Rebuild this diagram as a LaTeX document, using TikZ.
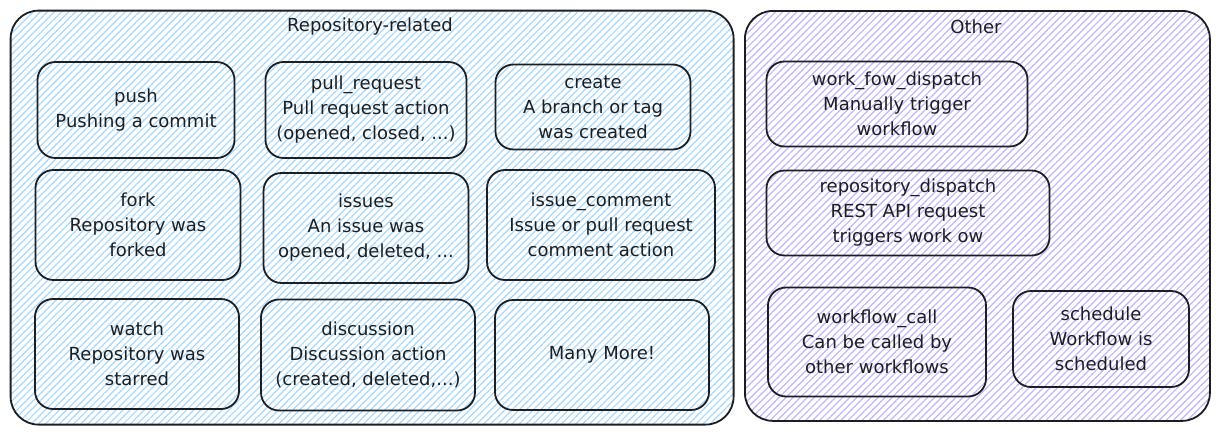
\documentclass[tikz,border=0pt]{standalone}
\usepackage{fontspec}
\setmainfont{DejaVu Sans}
\usetikzlibrary{patterns.meta}
\definecolor{hatchblue}{HTML}{A5D8FF}
\definecolor{hatchpurple}{HTML}{C2B2FF}
\definecolor{ink}{HTML}{1E1E1E}
\tikzset{
  group/.style={draw=ink, line width=1.8pt, rounded corners=28pt, anchor=north west, inner sep=0pt},
  bluegroup/.style={group, pattern={Lines[angle=45,distance=5pt,line width=1.2pt]}, pattern color=hatchblue},
  purplegroup/.style={group, pattern={Lines[angle=45,distance=5pt,line width=1.2pt]}, pattern color=hatchpurple},
  grouptitle/.style={font=\fontsize{18}{22}\selectfont, text=ink, inner sep=0pt},
  evbox/.style={draw=ink, line width=1.8pt, rounded corners=18pt, align=center, inner sep=2pt,
    font=\fontsize{18}{25}\selectfont, text=ink},
}
\begin{document}
\begin{tikzpicture}[x=1pt,y=-1pt]
\useasboundingbox (0,0) rectangle (1219,434);
% containers
\node[bluegroup, minimum width=723pt, minimum height=414pt] (repo) at (10,10) {};
\node[purplegroup, minimum width=465pt, minimum height=410pt] (other) at (744,10) {};
\node[grouptitle] (repotitle) at (370,27) {Repository-related};
\node[grouptitle] (othertitle) at (976,27) {Other};
% left boxes
\node[evbox, minimum width=197pt, minimum height=96pt] (push) at (136,110) {push\\Pushing a commit};
\node[evbox, minimum width=201pt, minimum height=96pt] (pull) at (366,110) {pull\_request\\Pull request action\\(opened, closed, ...)};
\node[evbox, minimum width=195pt, minimum height=85pt] (create) at (593,107) {create\\A branch or tag\\was created};
\node[evbox, minimum width=205pt, minimum height=110pt] (fork) at (138,225) {fork\\Repository was\\forked};
\node[evbox, minimum width=205pt, minimum height=110pt] (issues) at (366,228) {issues\\An issue was\\opened, deleted, ...};
\node[evbox, minimum width=228pt, minimum height=110pt] (icomment) at (601,225) {issue\_comment\\Issue or pull request\\comment action};
\node[evbox, minimum width=204pt, minimum height=110pt] (watch) at (137,354) {watch\\Repository was\\starred};
\node[evbox, minimum width=214pt, minimum height=111pt] (discussion) at (368,355) {discussion\\Discussion action\\(created, deleted,...)};
\node[evbox, minimum width=214pt, minimum height=110pt] (more) at (602,355) {Many More!};
% right boxes
\node[evbox, minimum width=261pt, minimum height=85pt] (wfd) at (897,104) {work\_fow\_dispatch\\Manually trigger\\workflow};
\node[evbox, minimum width=283pt, minimum height=85pt] (rd) at (908,213) {repository\_dispatch\\REST API request\\triggers work ow};
\node[evbox, minimum width=218pt, minimum height=109pt] (wfc) at (877,342) {workflow\_call\\Can be called by\\other workflows};
\node[evbox, minimum width=176pt, minimum height=96pt] (sched) at (1101,339) {schedule\\Workflow is\\scheduled};
\end{tikzpicture}
\end{document}
